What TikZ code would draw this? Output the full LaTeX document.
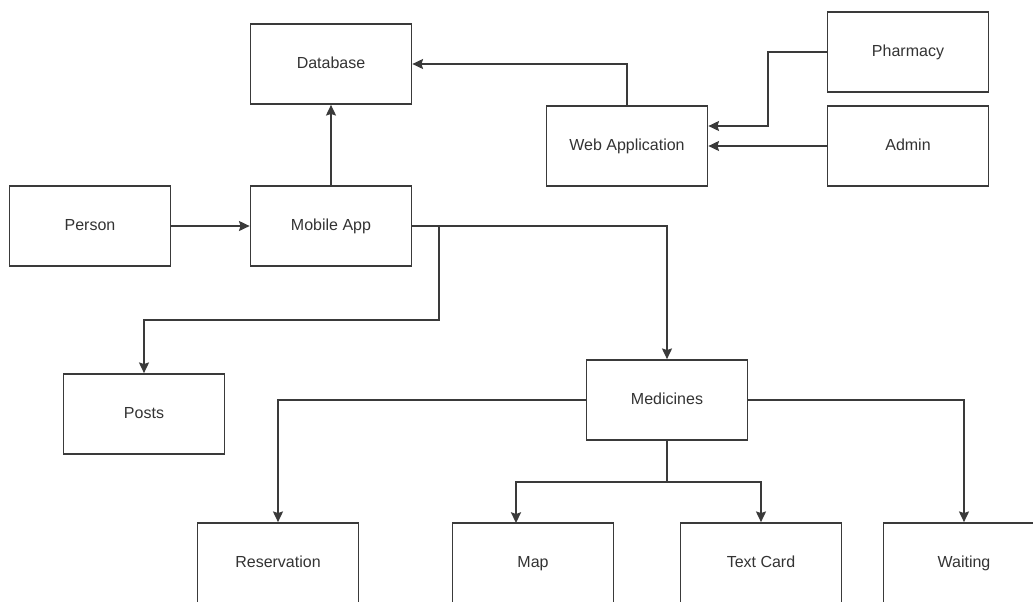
\documentclass[tikz,border=0pt]{standalone}
\usepackage{fontspec}
\setmainfont{Liberation Sans}
\usetikzlibrary{arrows.meta}
\definecolor{boxline}{HTML}{3A3A3A}
\definecolor{labeltext}{HTML}{333333}
\begin{document}
\begin{tikzpicture}[x=0.75pt,y=-0.75pt,
  box/.style={draw=boxline, line width=1.3pt, minimum width=120.75pt,
    minimum height=60pt, inner sep=0pt, fill=white,
    text height=1.6ex, text depth=0.3ex,
    font=\fontsize{12}{14}\selectfont, text=labeltext},
  wire/.style={draw=boxline, line width=1.3pt},
  link/.style={wire, -{Stealth[length=8pt,width=7.5pt,inset=1.2pt]}}]
\clip (0,0) rectangle (1033,601);
\fill[white] (0,0) rectangle (1033,601);

% boxes
\node[box] (database)    at (331,64)  {Database};
\node[box] (webapp)      at (627,146) {Web Application};
\node[box] (pharmacy)    at (908,52)  {Pharmacy};
\node[box] (admin)       at (908,146) {Admin};
\node[box] (person)      at (90,226)  {Person};
\node[box] (mobile)      at (331,226) {Mobile App};
\node[box] (posts)       at (144,414) {Posts};
\node[box] (medicines)   at (667,400) {Medicines};
\node[box] (reservation) at (278,563) {Reservation};
\node[box] (map)         at (533,563) {Map};
\node[box] (textcard)    at (761,563) {Text Card};
\node[box] (waiting)     at (964,563) {Waiting};

% bend and fork points
\coordinate (split)     at (439,226);
\coordinate (postsbend) at (439,320);
\coordinate (pharmbend) at (768,126);
\coordinate (fork)      at (667,482);
\coordinate (mapin)     at (516,523);

% connectors
\draw[link] (webapp.north) |- (database.east);
\draw[link] (mobile.north) -- (database.south);
\draw[link] (person.east) -- (mobile.west);
\draw[link] (mobile.east) -| (medicines.north);
\draw[link] (split) -- (postsbend) -| (posts.north);
\draw[link] (pharmacy.west) -| (pharmbend) -- (webapp.east |- pharmbend);
\draw[link] (admin.west) -- (webapp.east);
\draw[link] (medicines.west) -| (reservation.north);
\draw[link] (medicines.east) -| (waiting.north);
\draw[wire] (medicines.south) -- (fork);
\draw[link] (fork) -| (mapin);
\draw[link] (fork) -| (textcard.north);
\end{tikzpicture}
\end{document}
